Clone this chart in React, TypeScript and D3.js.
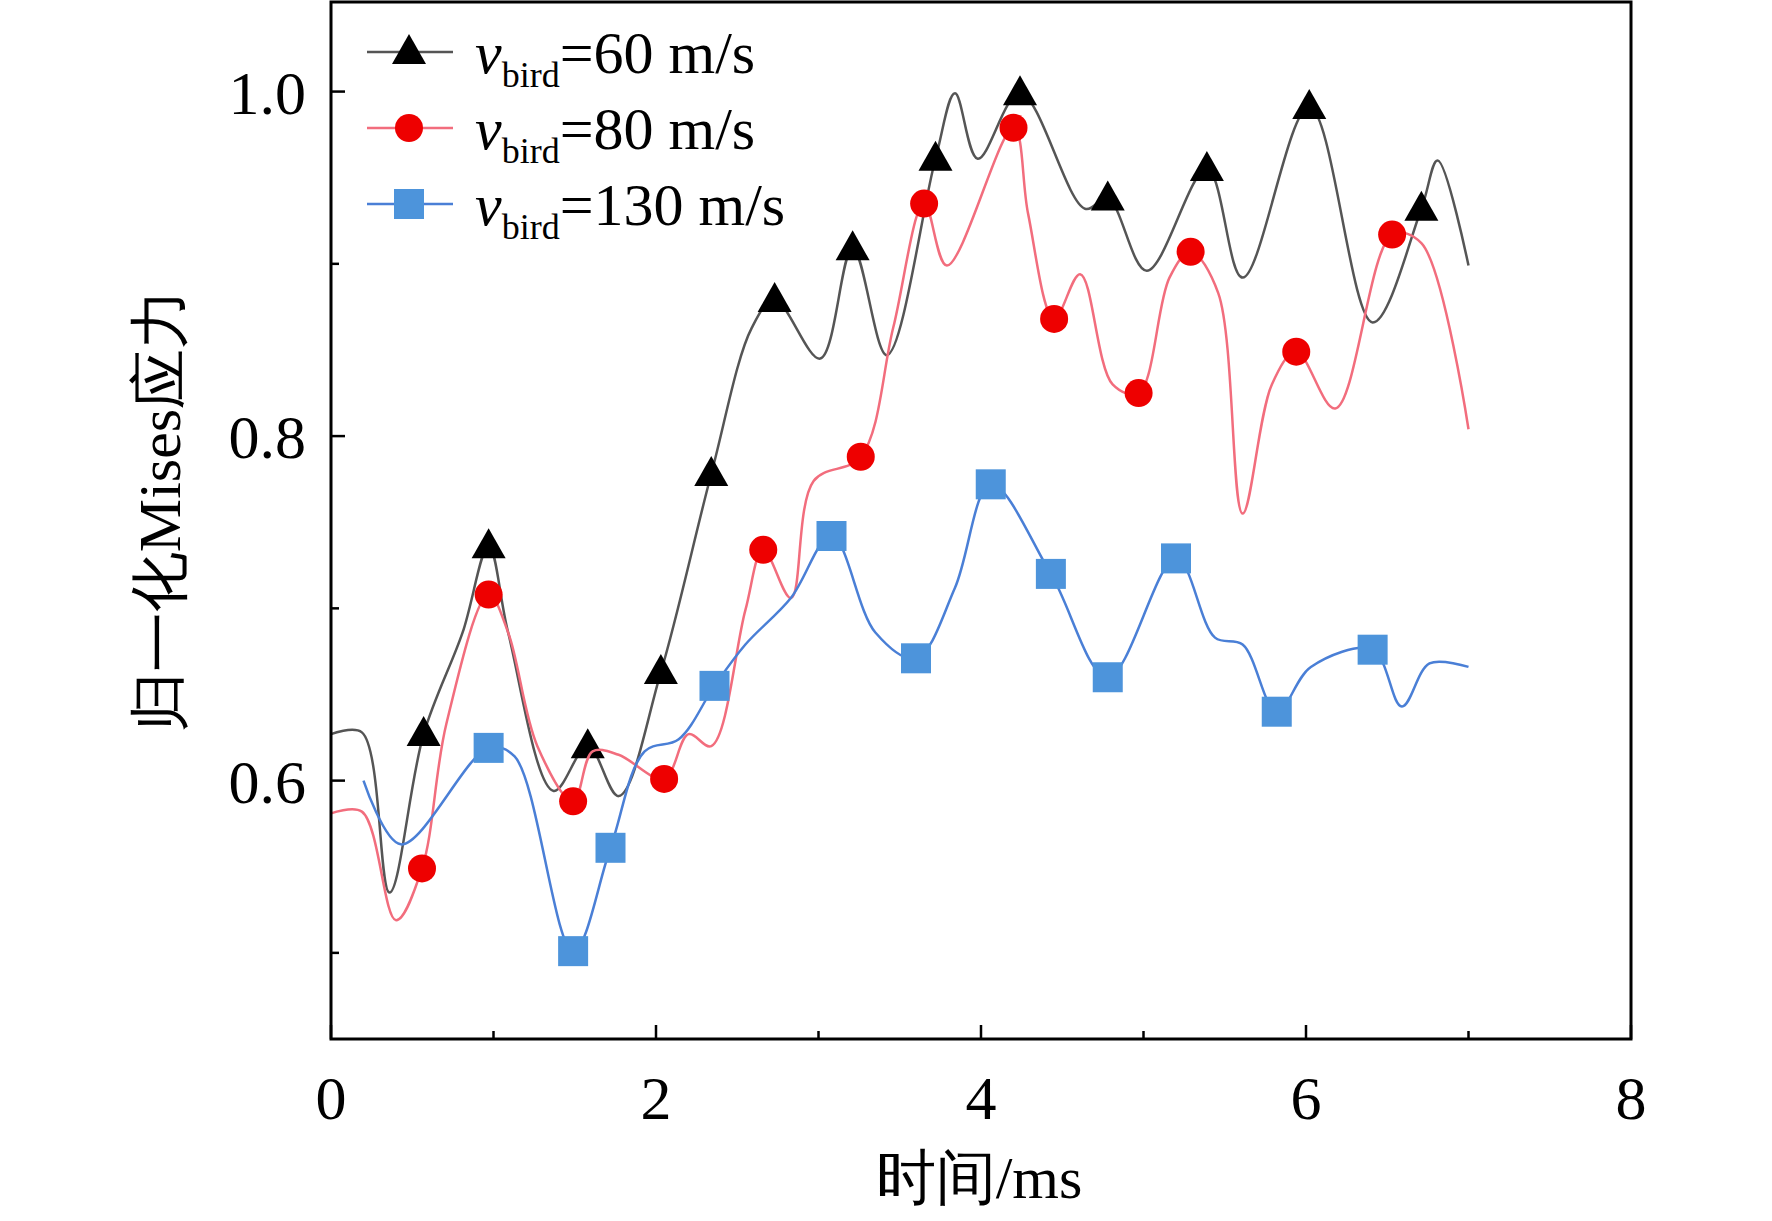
import React from "react";
import * as d3 from "d3";

const t60 = [0,0.19,0.36,0.57,0.81,0.97,1.09,1.37,1.58,1.77,2.03,2.34,2.59,2.73,3.01,3.21,3.42,3.72,3.84,3.98,4.24,4.64,4.78,5.02,5.39,5.61,6.02,6.41,6.71,6.81,7.0];
const v60 = [0.627,0.628,0.535,0.627,0.686,0.736,0.686,0.594,0.620,0.591,0.663,0.778,0.863,0.879,0.845,0.909,0.847,0.961,0.999,0.961,0.999,0.932,0.938,0.896,0.955,0.892,0.991,0.866,0.932,0.960,0.899];
const m60t = [0.57,0.97,1.58,2.03,2.34,2.73,3.21,3.72,4.24,4.78,5.39,6.02,6.71];
const m60v = [0.627,0.736,0.620,0.663,0.778,0.879,0.909,0.961,0.999,0.938,0.955,0.991,0.932];

const t80 = [0,0.19,0.40,0.56,0.71,0.97,1.09,1.27,1.49,1.61,1.77,2.05,2.20,2.34,2.55,2.66,2.83,2.97,3.26,3.46,3.65,3.79,4.20,4.29,4.45,4.61,4.81,4.97,5.16,5.29,5.46,5.61,5.79,5.94,6.18,6.53,6.71,7.0];
const v80 = [0.581,0.582,0.519,0.549,0.633,0.708,0.686,0.620,0.588,0.617,0.615,0.601,0.627,0.620,0.699,0.734,0.706,0.774,0.788,0.863,0.935,0.899,0.979,0.929,0.868,0.894,0.830,0.825,0.892,0.907,0.883,0.755,0.830,0.849,0.816,0.917,0.912,0.804];
const m80t = [0.56,0.97,1.49,2.05,2.66,3.26,3.65,4.20,4.45,4.97,5.29,5.94,6.53];
const m80v = [0.549,0.708,0.588,0.601,0.734,0.788,0.935,0.979,0.868,0.825,0.907,0.849,0.917];

const t130 = [0.2,0.43,0.97,1.13,1.49,1.72,1.93,2.14,2.36,2.55,2.83,3.08,3.35,3.60,3.84,4.06,4.43,4.78,5.20,5.44,5.61,5.82,6.03,6.41,6.59,6.76,7.0];
const v130 = [0.60,0.563,0.619,0.614,0.501,0.561,0.617,0.624,0.655,0.679,0.706,0.742,0.686,0.671,0.712,0.772,0.720,0.660,0.729,0.683,0.679,0.640,0.666,0.676,0.643,0.668,0.666];
const m130t = [0.97,1.49,1.72,2.36,3.08,3.60,4.06,4.43,4.78,5.20,5.82,6.41];
const m130v = [0.619,0.501,0.561,0.655,0.742,0.671,0.772,0.720,0.660,0.729,0.640,0.676];

const xTicks = [0,2,4,6,8];
const xMinor = [1,3,5,7];
const yTicks = [0.6,0.8,1.0];
const yMinor = [0.5,0.7,0.9];
const labels = ["60", "80", "130"];

const L = 331, R = 1631, T = 2, B = 1039;
const x = d3.scaleLinear().domain([0, 8]).range([L, R]);
const y = d3.scaleLinear().domain([0.45, 1.052]).range([B, T]);
const line = d3.line<[number, number]>().x(d => x(d[0])).y(d => y(d[1])).curve(d3.curveCatmullRom.alpha(0.5));

const series = [
  { t: t60, v: v60, mt: m60t, mv: m60v, lc: "#555555", mc: "#000000", shape: "tri" },
  { t: t80, v: v80, mt: m80t, mv: m80v, lc: "#f26d7d", mc: "#ee0000", shape: "circ" },
  { t: t130, v: v130, mt: m130t, mv: m130v, lc: "#4a7fd6", mc: "#4d94db", shape: "sq" },
];

function Marker({ cx, cy, shape, color }: any) {
  if (shape === "tri") return <path d={`M${cx},${cy - 18}L${cx + 17},${cy + 12}L${cx - 17},${cy + 12}Z`} fill={color} />;
  if (shape === "circ") return <circle cx={cx} cy={cy} r={14} fill={color} />;
  return <rect x={cx - 15} y={cy - 15} width={30} height={30} fill={color} />;
}

export default function App() {
  const font = "'Liberation Serif', 'Times New Roman', serif";
  return (
    <svg width={1772} height={1221} style={{ display: "block", position: "absolute", left: 0, top: 0, background: "#fff" }} fontFamily={font}>
      {series.map((s, i) => (
        <g key={i}>
          <path d={line(s.t.map((t, j) => [t, s.v[j]]) as any) || ""} fill="none" stroke={s.lc} strokeWidth={2.5} />
          {s.mt.map((t, j) => <Marker key={j} cx={x(t)} cy={y(s.mv[j])} shape={s.shape} color={s.mc} />)}
        </g>
      ))}
      <rect x={L} y={T} width={R - L} height={B - T} fill="none" stroke="#000" strokeWidth={3} />
      {xTicks.map(t => <g key={t}><line x1={x(t)} x2={x(t)} y1={B} y2={B - 14} stroke="#000" strokeWidth={2.5} />
        <text x={x(t)} y={B + 80} fontSize={62} textAnchor="middle">{t}</text></g>)}
      {xMinor.map(t => <line key={t} x1={x(t)} x2={x(t)} y1={B} y2={B - 8} stroke="#000" strokeWidth={2.5} />)}
      {yTicks.map(t => <g key={t}><line x1={L} x2={L + 14} y1={y(t)} y2={y(t)} stroke="#000" strokeWidth={2.5} />
        <text x={L - 25} y={y(t) + 22} fontSize={62} textAnchor="end">{t.toFixed(1)}</text></g>)}
      {yMinor.map(t => <line key={t} x1={L} x2={L + 8} y1={y(t)} y2={y(t)} stroke="#000" strokeWidth={2.5} />)}
      <text x={(L + R) / 2 - 2} y={1198} fontSize={60} textAnchor="middle">时间/ms</text>
      <text transform={`translate(180,${(T + B) / 2 - 10}) rotate(-90)`} fontSize={60} textAnchor="middle">归一化Mises应力</text>
      {series.map((s, i) => {
        const ly = 52 + i * 76;
        return (
          <g key={i}>
            <line x1={367} x2={453} y1={ly} y2={ly} stroke={s.lc} strokeWidth={2.5} />
            <Marker cx={409} cy={ly} shape={s.shape} color={s.mc} />
            <text x={475} y={ly + 21} fontSize={60}>
              <tspan fontStyle="italic">v</tspan>
              <tspan fontSize={36} dy={14}>bird</tspan>
              <tspan dy={-14}>={labels[i]} m/s</tspan>
            </text>
          </g>
        );
      })}
    </svg>
  );
}
